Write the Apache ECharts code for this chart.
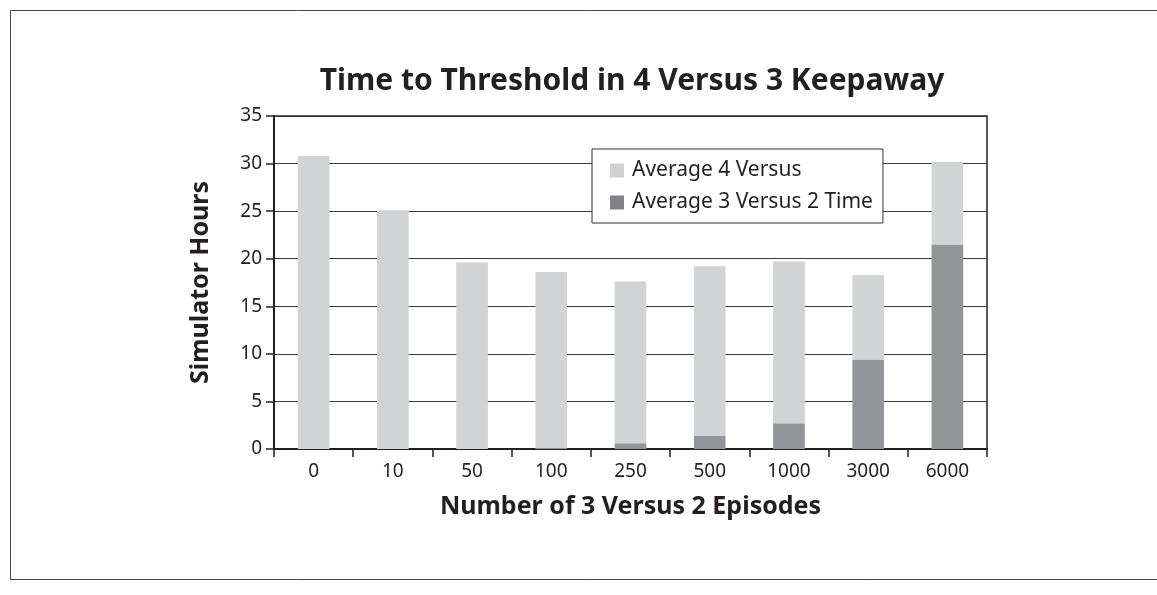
<!DOCTYPE html>
<html>
<head>
<meta charset="utf-8">
<script src="https://cdn.jsdelivr.net/npm/echarts@6/dist/echarts.min.js"></script>
<style>
html,body{margin:0;padding:0;background:#fff;}
#c{width:1157px;height:595px;}
</style>
</head>
<body>
<div id="c"></div>
<script>
const categories = ['0','10','50','100','250','500','1000','3000','6000'];
const avg3v2 = [0, 0, 0, 0.1, 0.6, 1.4, 2.7, 9.4, 21.5];
const avg4v3 = [30.8, 25.1, 19.6, 18.5, 17.0, 17.8, 17.0, 8.9, 8.7];
const yTicks = [0, 5, 10, 15, 20, 25, 30, 35];

const FONT = '"Noto Sans", "Open Sans", sans-serif';
const chart = echarts.init(document.getElementById('c'), null, {renderer: 'canvas'});
chart.setOption({
  backgroundColor: '#fff',
  animation: false,
  graphic: [{
    type: 'rect', left: 8, top: 8, shape: {width: 1160, height: 569},
    style: {fill: 'none', stroke: '#444', lineWidth: 1}, z: -1
  }],
  title: {
    text: 'Time to Threshold in 4 Versus 3 Keepaway',
    left: 627, top: 61, textAlign: 'center',
    textStyle: {fontFamily: FONT, fontWeight: 'bold', fontSize: 30, color: '#231f20'}
  },
  legend: {
    orient: 'vertical',
    left: 592, top: 149,
    padding: [11, 10, 10, 18],
    itemGap: 11,
    itemWidth: 14, itemHeight: 14,
    icon: 'rect',
    backgroundColor: '#fff',
    borderColor: '#333', borderWidth: 1,
    textStyle: {fontFamily: FONT, fontSize: 21, color: '#231f20', padding: [0, 0, 0, 3]},
    data: [
      {name: 'Average 4 Versus', itemStyle: {color: '#cfd0d2'}},
      {name: 'Average 3 Versus 2 Time', itemStyle: {color: '#808285'}}
    ]
  },
  grid: {left: 274, right: 170, top: 116, bottom: 146, show: true, borderColor: '#231f20', borderWidth: 1.5},
  xAxis: {
    type: 'category',
    data: categories,
    name: 'Number of 3 Versus 2 Episodes',
    nameLocation: 'middle', nameGap: 45,
    nameTextStyle: {fontFamily: FONT, fontWeight: 'bold', fontSize: 25, color: '#231f20'},
    axisLine: {lineStyle: {color: '#231f20', width: 2}},
    axisTick: {show: true, length: 8, lineStyle: {color: '#231f20', width: 1.5}},
    axisLabel: {fontFamily: FONT, fontSize: 19, color: '#231f20', margin: 13}
  },
  yAxis: {
    type: 'value', min: 0, max: 35, interval: 5,
    name: 'Simulator Hours',
    nameLocation: 'middle', nameGap: 61,
    nameTextStyle: {fontFamily: FONT, fontWeight: 'bold', fontSize: 25, color: '#231f20'},
    axisLine: {show: true, lineStyle: {color: '#231f20', width: 2}},
    axisTick: {show: true, inside: false, length: 8, lineStyle: {color: '#231f20', width: 1.5}},
    axisLabel: {fontFamily: FONT, fontSize: 19, color: '#231f20', margin: 12,
      formatter: v => yTicks.includes(v) ? String(v) : ''},
    splitLine: {show: true, lineStyle: {color: '#3a3a3a', width: 1.2}}
  },
  series: [
    {
      name: 'Average 3 Versus 2 Time', type: 'bar', stack: 'total',
      data: avg3v2, barWidth: '40%',
      itemStyle: {color: '#939598'}
    },
    {
      name: 'Average 4 Versus', type: 'bar', stack: 'total',
      data: avg4v3, barWidth: '40%',
      itemStyle: {color: '#d1d3d4'}
    }
  ]
});
</script>
</body>
</html>
